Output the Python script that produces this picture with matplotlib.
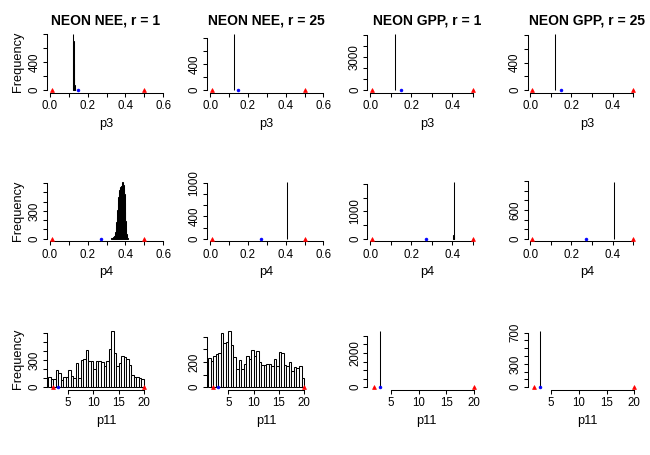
import numpy as np
import matplotlib
matplotlib.use("Agg")
import matplotlib.pyplot as plt

plt.rcParams['font.family'] = ['Liberation Sans', 'DejaVu Sans']

# ---------------- data ----------------
titles = ["NEON NEE, r = 1", "NEON NEE, r = 25", "NEON GPP, r = 1", "NEON GPP, r = 25"]
params = ["p3", "p4", "p11"]

# prior bounds (red triangles) and initial values (blue dots)
p3_bounds = [0.01, 0.5]
p4_bounds = [0.01, 0.5]
p11_bounds = [2, 20]
p3_init = 0.15
p4_init = 0.27
p11_init = 3

# histograms: bin left edges start, bin width, counts
p3_nee_r1_start, p3_nee_r1_width = 0.123, 0.0015
p3_nee_r1_counts = [810, 700, 380, 170, 70, 30, 12, 5]
p3_nee_r25_start, p3_nee_r25_width = 0.127, 0.001
p3_nee_r25_counts = [870]
p3_gpp_r1_start, p3_gpp_r1_width = 0.122, 0.001
p3_gpp_r1_counts = [5100]
p3_gpp_r25_start, p3_gpp_r25_width = 0.120, 0.001
p3_gpp_r25_counts = [815]

p4_nee_r1_start, p4_nee_r1_width = 0.325, 0.0025
p4_nee_r1_counts = [3, 5, 8, 12, 18, 25, 35, 50, 70, 95, 130, 180, 240, 310, 390,
                    450, 500, 530, 545, 560, 570, 575, 590, 610, 600, 580, 540,
                    480, 390, 290, 190, 110, 55, 20, 5]
p4_nee_r25_start, p4_nee_r25_width = 0.405, 0.001
p4_nee_r25_counts = [1010]
p4_gpp_r1_start, p4_gpp_r1_width = 0.402, 0.002
p4_gpp_r1_counts = [20, 130, 2070, 60]
p4_gpp_r25_start, p4_gpp_r25_width = 0.406, 0.001
p4_gpp_r25_counts = [1180]

p11_nee_r1_start, p11_nee_r1_width = 1.0, 0.5
p11_nee_r1_counts = [112, 90, 90, 192, 156, 83, 112, 112, 185, 127, 101, 265, 101,
                     294, 312, 410, 290, 287, 200, 290, 290, 272, 228, 290, 417,
                     620, 374, 228, 265, 345, 337, 312, 247, 130, 112, 112, 101, 90]
p11_nee_r25_start, p11_nee_r25_width = 1.0, 0.5
p11_nee_r25_counts = [230, 211, 250, 261, 269, 425, 352, 355, 446, 334, 235, 146,
                      217, 146, 185, 243, 222, 295, 248, 287, 196, 178, 178, 185,
                      185, 170, 225, 164, 282, 274, 178, 170, 196, 125, 157, 151,
                      170, 73]
p11_gpp_r1_start, p11_gpp_r1_width = 3.03, 0.03
p11_gpp_r1_counts = [3300]
p11_gpp_r25_start, p11_gpp_r25_width = 2.98, 0.03
p11_gpp_r25_counts = [725]

# axis ticks
x_ticks_p34 = [0.0, 0.1, 0.2, 0.3, 0.4, 0.5, 0.6]
x_labels_p34 = ["0.0", "", "0.2", "", "0.4", "", "0.6"]
x_ticks_p11 = [5, 10, 15, 20]
x_labels_p11 = ["5", "10", "15", "20"]

# y ticks: (top tick, step, shown labels) per panel
y_ticks_spec = [
    [(800, 200, [0, 400]), (800, 200, [0, 400]), (5000, 1000, [0, 3000]), (800, 200, [0, 400])],
    [(600, 100, [0, 300]), (1000, 200, [0, 400, 1000]), (2000, 500, [0, 1000]), (1200, 200, [0, 600])],
    [(600, 100, [0, 300]), (400, 100, [0, 200]), (3000, 500, [0, 2000]), (700, 100, [0, 300, 700])],
]

hists = [
    [(p3_nee_r1_start, p3_nee_r1_width, p3_nee_r1_counts),
     (p3_nee_r25_start, p3_nee_r25_width, p3_nee_r25_counts),
     (p3_gpp_r1_start, p3_gpp_r1_width, p3_gpp_r1_counts),
     (p3_gpp_r25_start, p3_gpp_r25_width, p3_gpp_r25_counts)],
    [(p4_nee_r1_start, p4_nee_r1_width, p4_nee_r1_counts),
     (p4_nee_r25_start, p4_nee_r25_width, p4_nee_r25_counts),
     (p4_gpp_r1_start, p4_gpp_r1_width, p4_gpp_r1_counts),
     (p4_gpp_r25_start, p4_gpp_r25_width, p4_gpp_r25_counts)],
    [(p11_nee_r1_start, p11_nee_r1_width, p11_nee_r1_counts),
     (p11_nee_r25_start, p11_nee_r25_width, p11_nee_r25_counts),
     (p11_gpp_r1_start, p11_gpp_r1_width, p11_gpp_r1_counts),
     (p11_gpp_r25_start, p11_gpp_r25_width, p11_gpp_r25_counts)],
]
bounds = [p3_bounds, p4_bounds, p11_bounds]
inits = [p3_init, p4_init, p11_init]

# ---------------- layout ----------------
W, H = 650, 455
fig = plt.figure(figsize=(W / 100, H / 100), dpi=100)

lefts = [46.5, 206.7, 367.3, 527.5]
bottoms = [92.5, 241.0, 389.5]
aw, ah = 119, 61

xlims = [
    [(-0.018, 0.612), (-0.018, 0.612), (-0.014, 0.565), (-0.014, 0.565)],
    [(-0.018, 0.612), (-0.018, 0.612), (-0.014, 0.565), (-0.014, 0.565)],
    [(0.69, 24.3), (0.69, 24.3), (0.75, 22.2), (0.75, 22.2)],
]

lw = 0.75
for r in range(3):
    for c in range(4):
        ax = fig.add_axes([lefts[c] / W, 1 - bottoms[r] / H, aw / W, ah / H])
        start, width, counts = hists[r][c]
        counts = np.asarray(counts, dtype=float)
        edges = start + width * np.arange(len(counts))
        ax.bar(edges, counts, width=width, align='edge', facecolor='white',
               edgecolor='black', linewidth=lw)
        ymax = counts.max()
        ax.set_ylim(-0.04 * ymax, 1.04 * ymax)
        ax.set_xlim(*xlims[r][c])

        # markers
        b = bounds[r]
        ax.plot(b, [0, 0], linestyle='none', marker='^', color='red',
                markersize=2.8, markeredgewidth=0.5, clip_on=False, zorder=5)
        ax.plot([inits[r]], [0], linestyle='none', marker='o', color='blue',
                markersize=2.1, markeredgewidth=0.4, clip_on=False, zorder=5)

        # x axis
        xl = ax.get_xlim()
        if r < 2:
            ticks = [t for t in x_ticks_p34 if xl[0] <= t <= xl[1]]
            labs = [x_labels_p34[x_ticks_p34.index(t)] for t in ticks]
        else:
            ticks = [t for t in x_ticks_p11 if xl[0] <= t <= xl[1]]
            labs = [x_labels_p11[x_ticks_p11.index(t)] for t in ticks]
        ax.set_xticks(ticks, labs)
        ax.spines['bottom'].set_bounds(ticks[0], ticks[-1])

        # y axis
        top, step, shown = y_ticks_spec[r][c]
        yt = list(np.arange(0, top + step / 2, step))
        ylabs = [str(int(v)) if int(v) in shown else "" for v in yt]
        ax.set_yticks(yt, ylabs)
        ax.spines['left'].set_bounds(0, top)
        for lab in ax.get_yticklabels():
            lab.set_rotation(90)
            lab.set_va('center')

        for s in ['top', 'right']:
            ax.spines[s].set_visible(False)
        for s in ['left', 'bottom']:
            ax.spines[s].set_linewidth(lw)
        ax.tick_params(axis='both', length=3, width=lw, labelsize=8.3, direction='out')
        ax.tick_params(axis='y', pad=1.5)
        ax.tick_params(axis='x', pad=2.5)

        ax.set_xlabel(params[r], fontsize=9.2, labelpad=4)
        if c == 0:
            ax.set_ylabel("Frequency", fontsize=9.2, labelpad=3)
        if r == 0:
            ax.set_title(titles[c], fontsize=10, fontweight='bold', pad=5)

fig.savefig("out.png", dpi=100)
